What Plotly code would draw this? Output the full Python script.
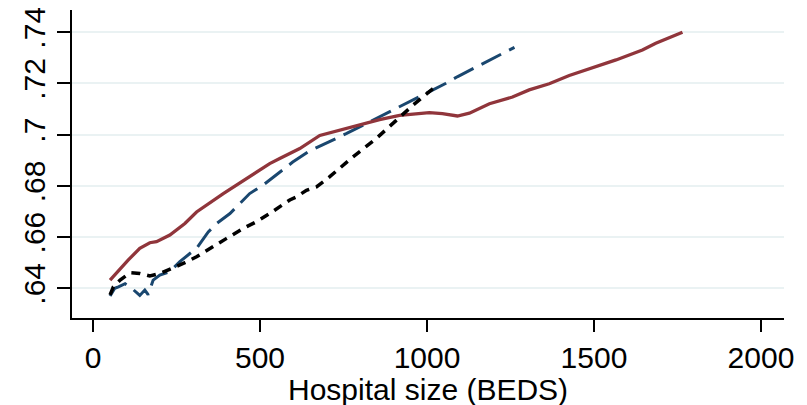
import plotly.graph_objects as go

# Red (maroon) solid series
red_x = [51, 80, 105, 140, 170, 190, 230, 275, 310, 390, 430, 529, 559, 619, 679, 758,
         858, 918, 978, 1007, 1046, 1091, 1127, 1187, 1256, 1306, 1366, 1426, 1566, 1645, 1685, 1765]
red_y = [.6432, .6475, .6510, .6556, .6578, .6582, .6608, .6653, .6698, .6770, .6803, .6887, .6907,
         .6946, .6997, .7023, .7059, .7075, .7084, .7086, .7082, .7073, .7084, .7121, .7147, .7175,
         .7199, .7231, .7292, .7331, .7357, .7400]

# Blue (navy) dashed series
blue_x = [51, 65, 76, 96, 116, 135, 140, 155, 165, 180, 200, 230, 260, 290, 310, 345, 370, 410,
          469, 509, 569, 598, 643, 658, 758, 858, 957, 1057, 1092, 1262]
blue_y = [.6370, .6400, .6406, .6418, .6400, .6378, .6372, .6393, .6375, .6432, .6452, .6465, .6504,
          .6536, .6556, .6620, .6653, .6692, .6770, .6803, .6864, .6893, .6932, .6942, .7004, .7069,
          .7134, .7201, .7227, .7341]

# Black dotted series
black_x = [51, 61, 81, 111, 140, 170, 200, 230, 270, 310, 350, 400, 450, 489, 529, 559, 589, 609,
           639, 669, 708, 778, 848, 908, 957, 1017, 1030]
black_y = [.6374, .6406, .6432, .6461, .6458, .6448, .6458, .6474, .6497, .6523, .6556, .6595, .6634,
           .6660, .6692, .6718, .6745, .6757, .6783, .6796, .6835, .6913, .6985, .7056, .7114, .7179, .7190]

x_ticks = [0, 500, 1000, 1500, 2000]
x_tick_labels = ["0", "500", "1000", "1500", "2000"]
y_ticks = [.64, .66, .68, .70, .72, .74]
y_tick_labels = [".64", ".66", ".68", ".7", ".72", ".74"]
x_title = "Hospital size (BEDS)"

FONT = "Liberation Sans, Arial, Helvetica, sans-serif"
FS = 30

fig = go.Figure()
fig.add_trace(go.Scatter(x=blue_x, y=blue_y, mode="lines",
                         line=dict(color="#1a476f", width=3, dash="22px,9px"), showlegend=False))
fig.add_trace(go.Scatter(x=red_x, y=red_y, mode="lines",
                         line=dict(color="#90353b", width=3.3), showlegend=False))
fig.add_trace(go.Scatter(x=black_x, y=black_y, mode="lines",
                         line=dict(color="black", width=3.5, dash="9px,7px"), showlegend=False))

# page body has an 8px margin, so the figure is drawn 8px smaller and shifted
fig.update_layout(
    width=799, height=397, autosize=False,
    margin=dict(l=64, r=23, t=2, b=87),
    paper_bgcolor="white", plot_bgcolor="white",
    font=dict(family=FONT, color="black", size=FS),
)
fig.update_xaxes(
    range=[-63, 2069], tickmode="array", tickvals=x_ticks, ticktext=x_tick_labels,
    showgrid=False, zeroline=False, showline=True, linecolor="black", linewidth=2,
    ticks="outside", ticklen=12, tickwidth=2, tickcolor="black",
    tickfont=dict(size=FS), automargin=False, ticklabeloverflow="allow",
)
fig.update_yaxes(
    range=[.6284, .7487], tickmode="array", tickvals=y_ticks, ticktext=y_tick_labels,
    showgrid=True, gridcolor="#eaf2f3", gridwidth=2, zeroline=False,
    showline=True, linecolor="black", linewidth=2,
    ticks="outside", ticklen=13, tickwidth=2, tickcolor="black",
    tickangle=-90, tickfont=dict(size=FS), automargin=False, ticklabeloverflow="allow",
)
fig.add_annotation(text=x_title, xref="paper", yref="paper", x=0.5, y=-0.233,
                   xanchor="center", yanchor="middle", showarrow=False,
                   font=dict(size=FS, color="black", family=FONT))

fig.write_html("out.html")
